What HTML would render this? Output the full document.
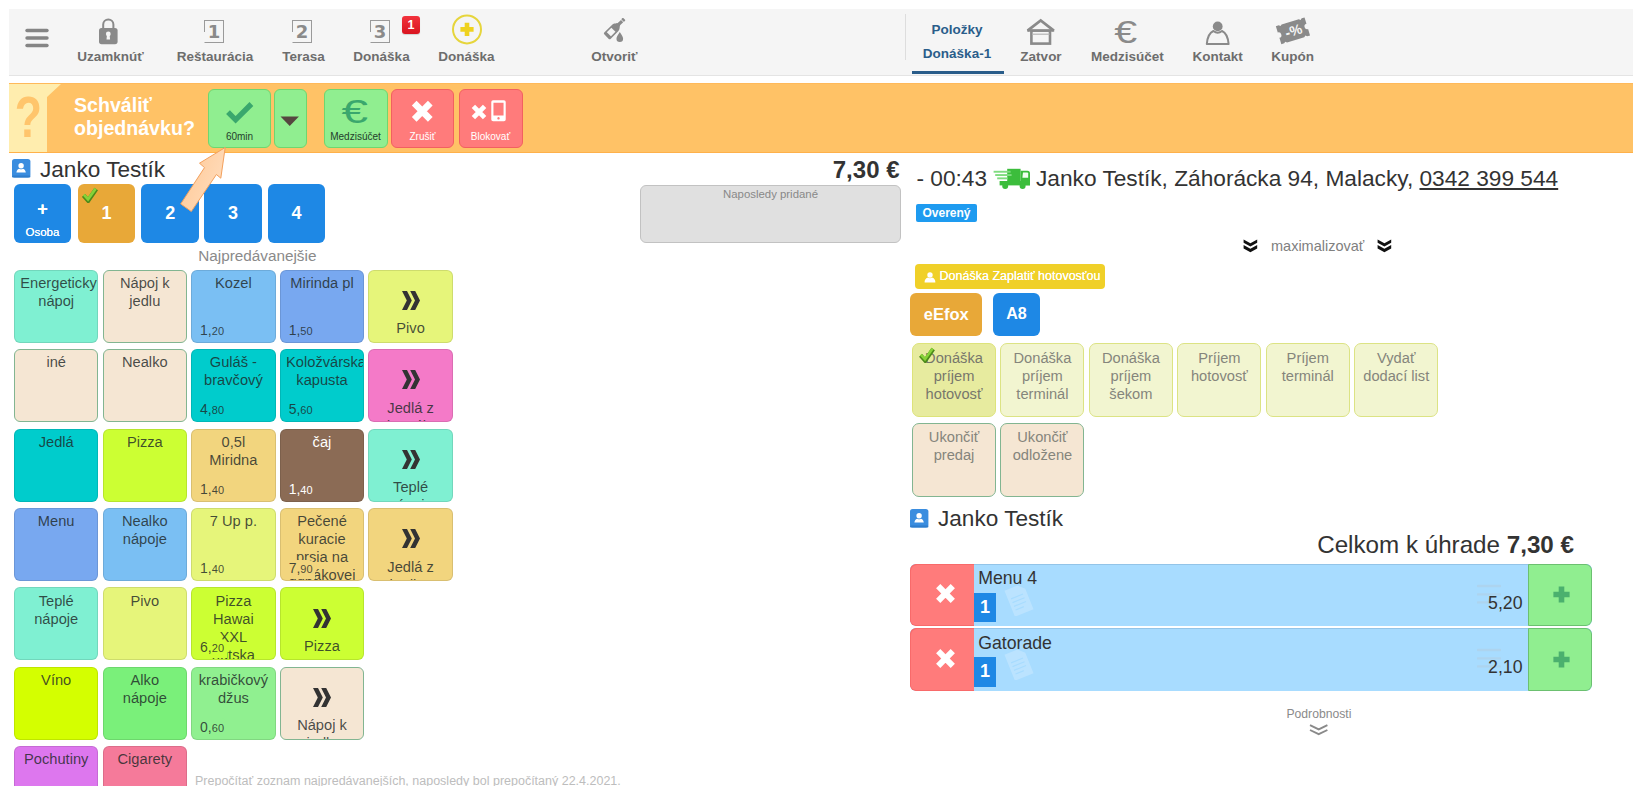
<!DOCTYPE html><html lang="sk"><head><meta charset="utf-8"><title>POS</title><style>
*{box-sizing:border-box;margin:0;padding:0}
html,body{width:1640px;height:798px;overflow:hidden;background:#fff}
body{font-family:"Liberation Sans",Arial,sans-serif;color:#333;position:relative}
#frame{position:absolute;left:9px;top:9px;width:1624px;height:777px;overflow:hidden;background:#fff}
.abs{position:absolute}
#nav{position:absolute;left:0;top:0;width:1624px;height:67px;background:#f5f5f5;border-bottom:1px solid #e4e4e4;box-sizing:border-box}
.nl{position:absolute;top:40px;font-size:13.5px;font-weight:bold;color:#6d6d6d;white-space:nowrap;transform:translateX(-50%);line-height:16px}
.nl.act{color:#2a5d8a}
#obar{position:absolute;left:0;top:74px;width:1624px;height:70px;background:#ffc266;border-top:1px solid #ffb95a;border-bottom:1.5px solid #ffb14a}
.ob{position:absolute;top:5px;height:59px;border-radius:6px;border:1px solid;text-align:center}
.ob.g{background:#90ee90;border-color:#6fd66f}
.ob.r{background:#ff7b7b;border-color:#f26060}
.ob span{position:absolute;left:0;right:0;bottom:5px;font-size:10px;line-height:11px;color:#24402c;white-space:nowrap}
.ob.r span{color:#fff}
.pb{position:absolute;top:175.2px;width:57.6px;height:58.4px;border-radius:6px;background:#1e88e5;color:#fff;font-weight:bold;font-size:18px;text-align:center;line-height:58.4px}
.t{position:absolute;width:84.6px;height:73.4px;border-radius:6px;border:1px solid rgba(0,0,0,.10);overflow:hidden;text-align:center;font-size:14.67px;line-height:18px;padding:3.5px 5.4px 0 5.4px;color:rgba(30,40,40,.82)}
.t .p{position:absolute;left:4.6px;bottom:1.6px;font-size:11px;line-height:13px;text-align:left;padding:2.3px 2.8px 2.6px 3.4px;border-radius:0 6px 0 0}
.t .p b{font-weight:normal;font-size:14px}
.t .ch{display:block;width:18px;height:19px;margin:17px auto 9.2px auto}
.pt{position:absolute;width:84px;height:74.3px;border-radius:7px;border:1px solid #dce384;background:#f2f5d0;overflow:hidden;text-align:center;font-size:14.67px;line-height:18px;padding:4.6px 4px 0 4px;color:#85857c}
</style></head><body><div id="frame">
<div id="nav">
<svg class="abs" style="left:16px;top:19px" width="24" height="20" viewBox="0 0 24 20"><g stroke="#858585" stroke-width="3.4" stroke-linecap="round"><line x1="2" y1="2.5" x2="22" y2="2.5"/><line x1="2" y1="10" x2="22" y2="10"/><line x1="2" y1="17.5" x2="22" y2="17.5"/></g></svg>
<svg class="abs" style="left:88px;top:8px" width="24" height="30" viewBox="0 0 24 30"><path d="M6.2 12 V7.5 a5.1 5.1 0 0 1 10.2 0 V12" fill="none" stroke="#8a8a8a" stroke-width="2"/><rect x="2" y="11" width="18.6" height="16.2" rx="2.6" fill="#8a8a8a"/><circle cx="11.3" cy="17" r="2.4" fill="#f5f5f5"/><path d="M10.1 17 h2.4 l0.6 5.4 h-3.6z" fill="#f5f5f5"/></svg>
<div class="abs" style="left:195px;top:11px;width:20px;height:22.5px;border:1.3px solid #9a9a9a;border-left-color:transparent;"></div>
<div class="abs" style="left:195px;top:11px;width:1.3px;height:12px;background:#9a9a9a"></div>
<div class="abs" style="left:195px;top:11px;width:20px;height:22.5px;text-align:center;font-family:'DejaVu Sans',sans-serif;font-weight:bold;font-size:18px;line-height:24px;color:#8a8a8a">1</div>
<div class="abs" style="left:283px;top:11px;width:20px;height:22.5px;border:1.3px solid #9a9a9a;border-left-color:transparent;"></div>
<div class="abs" style="left:283px;top:11px;width:1.3px;height:12px;background:#9a9a9a"></div>
<div class="abs" style="left:283px;top:11px;width:20px;height:22.5px;text-align:center;font-family:'DejaVu Sans',sans-serif;font-weight:bold;font-size:18px;line-height:24px;color:#8a8a8a">2</div>
<div class="abs" style="left:361px;top:11px;width:20px;height:22.5px;border:1.3px solid #9a9a9a;border-left-color:transparent;"></div>
<div class="abs" style="left:361px;top:11px;width:1.3px;height:12px;background:#9a9a9a"></div>
<div class="abs" style="left:361px;top:11px;width:20px;height:22.5px;text-align:center;font-family:'DejaVu Sans',sans-serif;font-weight:bold;font-size:18px;line-height:24px;color:#8a8a8a">3</div>
<div class="abs" style="left:393px;top:6.5px;width:18px;height:18.5px;border-radius:3px;background:linear-gradient(#f2323c,#d9141f);color:#fff;font-weight:bold;font-size:12.5px;line-height:18px;text-align:center;box-shadow:0 1px 1px rgba(0,0,0,.15)">1</div>
<svg class="abs" style="left:442px;top:4px" width="32" height="32" viewBox="0 0 32 32"><circle cx="16" cy="16.4" r="14" fill="none" stroke="#e6d53c" stroke-width="2"/><path d="M13.7 9.8h4.6v4.3h4.3v4.6h-4.3v4.3h-4.6v-4.3h-4.3v-4.6h4.3z" fill="#efd21f"/></svg>
<svg class="abs" style="left:588px;top:8px" width="29" height="29" viewBox="0 0 28 28"><g transform="rotate(45 14 14)" fill="#8a8a8a"><rect x="12.3" y="-3.2" width="3.6" height="2.2" rx="0.6"/><rect x="12.6" y="-0.4" width="3" height="4"/><path d="M12.6 3.2 h3 c0 2 2.8 3 2.8 6 v10.5 a1.2 1.2 0 0 1 -1.2 1.2 h-6.2 a1.2 1.2 0 0 1 -1.2 -1.2 V9.2 c0 -3 2.8 -4 2.8 -6z"/></g><rect x="0" y="0" width="0" height="0"/><path d="M22 14.6 c1.8 3 3.2 4.6 3.2 6.4 a3.2 3.2 0 0 1 -6.4 0 c0 -1.8 1.4 -3.4 3.2 -6.4z" fill="#8a8a8a"/><g transform="rotate(45 14 14)"><rect x="11.3" y="11.5" width="5.6" height="6.2" fill="#f5f5f5"/></g></svg>
<div class="nl" style="left:101.5px">Uzamknúť</div>
<div class="nl" style="left:206px">Reštaurácia</div>
<div class="nl" style="left:294.6px">Terasa</div>
<div class="nl" style="left:372.5px">Donáška</div>
<div class="nl" style="left:457.4px">Donáška</div>
<div class="nl" style="left:605.3px">Otvoriť</div>
<div class="nl act" style="left:948px;top:13px">Položky</div><div class="nl act" style="left:948px;top:37px">Donáška-1</div>
<div class="abs" style="left:902.5px;top:62px;width:92px;height:3px;background:#2a5d8a"></div>
<div class="abs" style="left:896px;top:5px;width:1px;height:46px;background:#ddd"></div>
<div class="nl" style="left:1032px">Zatvor</div>
<div class="nl" style="left:1118.4px">Medzisúčet</div>
<div class="nl" style="left:1208.6px">Kontakt</div>
<div class="nl" style="left:1283.7px">Kupón</div>
<svg class="abs" style="left:1016px;top:7.6px" width="32" height="30" viewBox="0 0 32 30"><path d="M2.6 13.6 L15.7 3.4 L28.8 13.6" fill="none" stroke="#8a8a8a" stroke-width="2.8" stroke-linejoin="miter"/><rect x="6.4" y="13.6" width="18.6" height="13" fill="none" stroke="#8a8a8a" stroke-width="2.6"/><line x1="2.2" y1="13.6" x2="29.2" y2="13.6" stroke="#8a8a8a" stroke-width="2.2"/><line x1="7" y1="17.2" x2="24.6" y2="17.2" stroke="#b5b5b5" stroke-width="1.2"/></svg>
<div class="abs" style="left:1107.5px;top:6.8px;font-size:31px;line-height:34px;color:#8a8a8a;transform:scaleX(1.33);transform-origin:50% 50%">€</div>
<svg class="abs" style="left:1194px;top:10px" width="30" height="28" viewBox="0 0 30 28"><path d="M3.8 25 c0.6 -7 3 -11.4 6.6 -13 c2.6 2 6 2 8.6 0 c3.6 1.6 6 6 6.6 13z" fill="#f5f5f5" stroke="#8a8a8a" stroke-width="2" stroke-linejoin="round"/><circle cx="14.7" cy="7.4" r="4.9" fill="#8a8a8a"/></svg>
<svg class="abs" style="left:1266px;top:5.5px" width="36" height="32" viewBox="0 0 36 32"><g transform="rotate(-17 18 16)"><path d="M3 6.4 h3 l1.5 1.2 l1.5 -1.2 h18 l1.5 1.2 l1.5 -1.2 h3 v6.6 a2.8 2.8 0 0 0 0 5.6 v6.6 h-3 l-1.5 -1.2 l-1.5 1.2 h-18 l-1.5 -1.2 l-1.5 1.2 h-3 v-6.6 a2.8 2.8 0 0 0 0 -5.6z" fill="#8a8a8a"/><text x="18.5" y="20.8" text-anchor="middle" font-family="Liberation Sans,sans-serif" font-size="14" font-weight="bold" fill="#f5f5f5">-%</text></g></svg>
</div>
<div id="obar">
<div class="abs" style="left:0;top:0;width:52px;height:68px;background:#ffedae;clip-path:polygon(0 0,52px 0,38px 13px,38px 68px,0 68px)"></div>
<div class="abs" style="left:2.4px;top:4.5px;width:34px;text-align:center;font-size:57px;line-height:57px;font-weight:bold;color:#ffc56c;transform:scaleX(.78)">?</div>
<div class="abs" style="left:65px;top:10px;font-size:19.6px;line-height:23.3px;font-weight:bold;color:#fff">Schváliť<br>objednávku?</div>
<div class="ob g" style="left:199px;width:63px"><svg class="abs" style="left:16.4px;top:9.5px" width="30" height="24" viewBox="0 0 30 24"><path d="M3 12.2 L10.6 19.8 L26.4 4" fill="none" stroke="#3aa76d" stroke-width="5.4" stroke-linecap="butt" stroke-linejoin="miter"/></svg><span>60min</span></div>
<div class="ob g" style="left:265px;width:32.5px"><svg class="abs" style="left:4.6px;top:26.2px" width="20" height="11" viewBox="0 0 20 11"><path d="M0.5 0.5h18.4l-9.2 9.6z" fill="#564640"/></svg></div>
<div class="ob g" style="left:314.5px;width:64px"><div class="abs" style="left:0;right:0;top:3.2px;text-align:center;font-size:34px;line-height:37px;color:#3aa76d;transform:translateX(-1.2px) scaleX(1.4)">€</div><span>Medzisúčet</span></div>
<div class="ob r" style="left:382px;width:63px"><svg class="abs" style="left:19.2px;top:9.6px" width="22.5" height="22.5" viewBox="0 0 21 21"><path d="M3 3 L18 18 M18 3 L3 18" stroke="#fff" stroke-width="6.2" stroke-linecap="butt"/></svg><span>Zrušiť</span></div>
<div class="ob r" style="left:449.5px;width:64px"><svg class="abs" style="left:11.6px;top:14px" width="16" height="16" viewBox="0 0 16 16"><path d="M2.4 2.4 L13.6 13.6 M13.6 2.4 L2.4 13.6" stroke="#fff" stroke-width="4.8"/></svg><svg class="abs" style="left:31.4px;top:10.4px" width="15" height="21.6" viewBox="0 0 16 23"><path d="M2.2 0.3h11.6a1.9 1.9 0 0 1 1.9 1.9v18.6a1.9 1.9 0 0 1 -1.9 1.9h-11.6a1.9 1.9 0 0 1 -1.9 -1.9v-18.6a1.9 1.9 0 0 1 1.9 -1.9z M2.6 2.8v13.6h10.8v-13.6z M8 18.2a1.3 1.3 0 1 0 0.01 0z" fill="#fff" fill-rule="evenodd"/></svg><span>Blokovať</span></div>
</div>
<div class="abs" style="left:31px;top:148px;font-size:22.6px;line-height:26px;color:#333">Janko Testík</div>
<svg class="abs" style="left:3px;top:150.3px" width="19" height="19" viewBox="0 0 19 19"><rect x="0" y="0" width="18.4" height="18.4" rx="2.6" fill="#3a8ddf"/><rect x="0" y="16.6" width="18.4" height="1.8" rx="0.9" fill="#2f7dcc"/><circle cx="9.1" cy="6.8" r="2.7" fill="#fff"/><path d="M4.4 13.6c0.2-2.6 1.8-3.6 3-3.9c1 .8 2.4 .8 3.4 0c1.2 .3 2.8 1.3 3 3.9z" fill="#fff"/></svg>
<div class="pb" style="left:4.65px;line-height:20px;padding-top:14.4px;font-size:18px;text-shadow:0 0 .5px #fff">+<div style="font-size:11.5px;font-weight:normal;line-height:16px;margin-top:5.2px;text-shadow:0 0 .4px #fff">Osoba</div></div>
<div class="pb" style="left:68.8px;background:#e8a838">1<svg class="abs" style="left:4px;top:2.5px" width="16" height="16" viewBox="0 0 16 16"><path d="M1.6 8.4 L6.2 13.6 L14.2 2" fill="none" stroke="#4c8a1a" stroke-width="4.4"/><path d="M1.8 7.6 L6 12.2 L13.6 1.6" fill="none" stroke="#86d238" stroke-width="2.8"/></svg></div>
<div class="pb" style="left:132.4px">2</div>
<div class="pb" style="left:195.2px">3</div>
<div class="pb" style="left:258.6px">4</div>
<div class="abs" style="left:189.2px;top:239.4px;font-size:15.3px;line-height:16px;color:#8a8a8a">Najpredávanejšie</div>
<div class="abs" style="left:802px;top:147.5px;width:88.5px;text-align:right;font-size:24px;line-height:26px;font-weight:bold;color:#333;white-space:nowrap">7,30 €</div>
<div class="abs" style="left:631px;top:175.6px;width:261px;height:58.4px;background:#e0e0e0;border:1px solid #c2c2c2;border-radius:6px;text-align:center;font-size:11.4px;line-height:14px;color:#888;padding-top:1.2px">Naposledy pridané</div>
<div class="t" style="left:4.9px;top:260.8px;background:#7ff0d2">Energeticky nápoj</div>
<div class="t" style="left:93.5px;top:260.8px;background:#f5e6d3;border-color:#82b591">Nápoj k jedlu</div>
<div class="t" style="left:182.1px;top:260.8px;background:#7abff3">Kozel<span class="p" style="background:#7abff3"><b>1,</b>20</span></div>
<div class="t" style="left:270.69999999999993px;top:260.8px;background:#78a8f0">Mirinda pl<span class="p" style="background:#78a8f0"><b>1,</b>50</span></div>
<div class="t" style="left:359.29999999999995px;top:260.8px;background:#e6f57a"><svg class="ch" viewBox="0 0 18 19"><path d="M0 0h5l4.8 9.5l-4.8 9.5h-5l4.8-9.5z M8.2 0h5l4.8 9.5l-4.8 9.5h-5l4.8-9.5z" fill="#333"/></svg>Pivo</div>
<div class="t" style="left:4.9px;top:339.9px;background:#f5e6d3;border-color:#82b591">iné</div>
<div class="t" style="left:93.5px;top:339.9px;background:#f5e6d3;border-color:#82b591">Nealko</div>
<div class="t" style="left:182.1px;top:339.9px;background:#00cccc">Guláš - bravčový<span class="p" style="background:#00cccc"><b>4,</b>80</span></div>
<div class="t" style="left:270.69999999999993px;top:339.9px;background:#00cccc">Koložvárska kapusta<span class="p" style="background:#00cccc"><b>5,</b>60</span></div>
<div class="t" style="left:359.29999999999995px;top:339.9px;background:#f47ac8"><svg class="ch" viewBox="0 0 18 19"><path d="M0 0h5l4.8 9.5l-4.8 9.5h-5l4.8-9.5z M8.2 0h5l4.8 9.5l-4.8 9.5h-5l4.8-9.5z" fill="#333"/></svg>Jedlá z denného</div>
<div class="t" style="left:4.9px;top:419.6px;background:#00cccc">Jedlá</div>
<div class="t" style="left:93.5px;top:419.6px;background:#ccff33">Pizza</div>
<div class="t" style="left:182.1px;top:419.6px;background:#f2d57e">0,5l Miridna<span class="p" style="background:#f2d57e"><b>1,</b>40</span></div>
<div class="t" style="left:270.69999999999993px;top:419.6px;background:#8b6b55;color:#fff">čaj<span class="p" style="background:#8b6b55"><b>1,</b>40</span></div>
<div class="t" style="left:359.29999999999995px;top:419.6px;background:#7ff0d2"><svg class="ch" viewBox="0 0 18 19"><path d="M0 0h5l4.8 9.5l-4.8 9.5h-5l4.8-9.5z M8.2 0h5l4.8 9.5l-4.8 9.5h-5l4.8-9.5z" fill="#333"/></svg>Teplé nápoje</div>
<div class="t" style="left:4.9px;top:498.9px;background:#78a8f0">Menu</div>
<div class="t" style="left:93.5px;top:498.9px;background:#7abff3">Nealko nápoje</div>
<div class="t" style="left:182.1px;top:498.9px;background:#e6f57a">7 Up p.<span class="p" style="background:#e6f57a"><b>1,</b>40</span></div>
<div class="t" style="left:270.69999999999993px;top:498.9px;background:#f2d57e">Pečené kuracie prsia na dubákovej<span class="p" style="background:#f2d57e"><b>7,</b>90</span></div>
<div class="t" style="left:359.29999999999995px;top:498.9px;background:#f2d57e"><svg class="ch" viewBox="0 0 18 19"><path d="M0 0h5l4.8 9.5l-4.8 9.5h-5l4.8-9.5z M8.2 0h5l4.8 9.5l-4.8 9.5h-5l4.8-9.5z" fill="#333"/></svg>Jedlá z hydiny</div>
<div class="t" style="left:4.9px;top:578.1px;background:#7ff0d2">Teplé nápoje</div>
<div class="t" style="left:93.5px;top:578.1px;background:#e6f57a">Pivo</div>
<div class="t" style="left:182.1px;top:578.1px;background:#ccff33">Pizza Hawai XXL hutska<span class="p" style="background:#ccff33"><b>6,</b>20</span></div>
<div class="t" style="left:270.69999999999993px;top:578.1px;background:#ccff33"><svg class="ch" viewBox="0 0 18 19"><path d="M0 0h5l4.8 9.5l-4.8 9.5h-5l4.8-9.5z M8.2 0h5l4.8 9.5l-4.8 9.5h-5l4.8-9.5z" fill="#333"/></svg>Pizza</div>
<div class="t" style="left:4.9px;top:657.5px;background:#d4ff00">Víno</div>
<div class="t" style="left:93.5px;top:657.5px;background:#7af07a">Alko nápoje</div>
<div class="t" style="left:182.1px;top:657.5px;background:#90f090">krabičkový džus<span class="p" style="background:#90f090"><b>0,</b>60</span></div>
<div class="t" style="left:270.69999999999993px;top:657.5px;background:#f5e6d3;border-color:#82b591"><svg class="ch" viewBox="0 0 18 19"><path d="M0 0h5l4.8 9.5l-4.8 9.5h-5l4.8-9.5z M8.2 0h5l4.8 9.5l-4.8 9.5h-5l4.8-9.5z" fill="#333"/></svg>Nápoj k jedlu</div>
<div class="t" style="left:4.9px;top:736.7px;background:#dd77ee">Pochutiny</div>
<div class="t" style="left:93.5px;top:736.7px;background:#f57a9a">Cigarety</div>
<div class="abs" style="left:186px;top:765px;font-size:12.5px;line-height:14px;color:#bdbdbd;white-space:nowrap">Prepočítať zoznam najpredávanejších, naposledy bol prepočítaný 22.4.2021.</div>
<svg class="abs" style="left:165px;top:133px;pointer-events:none" width="70" height="80" viewBox="165 133 70 80"><defs><linearGradient id="ag" x1="0" y1="0" x2="1" y2="0.6"><stop offset="0" stop-color="#ffc792"/><stop offset="1" stop-color="#ffdcbc"/></linearGradient></defs><polygon points="216.2,138.5 190.5,154.2 195.5,158.6 171.7,194.9 182.3,202.5 207.4,165.5 211.8,169.2" fill="url(#ag)" stroke="#f3a05c" stroke-width="1" stroke-linejoin="round"/></svg>
<div class="abs" style="left:907.5px;top:155.2px;font-size:22.68px;line-height:28px;color:#333;white-space:nowrap">- 00:43 <svg style="display:inline-block;vertical-align:-3.9px;margin:0 -0.8px 0 -0.9px" width="38" height="22" viewBox="0 0 38 22"><rect x="14.2" y="0.8" width="13.4" height="12.6" fill="#3cbd3c"/><path d="M27.6 2.8h6.8a2.6 2.6 0 0 1 2.6 2.6v11.8h-9.4z" fill="#3cbd3c"/><rect x="6.6" y="13" width="30.4" height="4.4" fill="#3cbd3c"/><path d="M30 4.6h4.2a1 1 0 0 1 1 1v4.2h-5.8z" fill="#f0fff0"/><rect x="0.6" y="2.8" width="17" height="1.9" fill="#7fdc7f"/><rect x="2.2" y="6.1" width="16.4" height="1.9" fill="#7fdc7f"/><rect x="4.2" y="9.4" width="10.4" height="1.9" fill="#7fdc7f"/><circle cx="12.2" cy="18" r="3" fill="#3cbd3c"/><circle cx="29.6" cy="18" r="3" fill="#3cbd3c"/></svg> Janko Testík, Záhorácka 94, Malacky, <u>0342 399 544</u></div>
<div class="abs" style="left:907px;top:195px;width:61px;height:18px;background:#1e9bf0;border-radius:2px;color:#fff;font-size:12px;font-weight:bold;line-height:18px;text-align:center">Overený</div>
<div class="abs" style="left:1262px;top:228.5px;font-size:14.5px;line-height:16px;color:#808080">maximalizovať</div>
<div class="abs" style="left:906.2px;top:255px;width:189.8px;height:24.7px;background:#f0d028;border-radius:4px;color:#fff;font-size:12.5px;line-height:24.7px;padding-left:24.4px;white-space:nowrap;text-shadow:0 0 .6px #fff"><svg class="abs" style="left:8.6px;top:7.6px" width="12" height="11" viewBox="0 0 12 11"><circle cx="6" cy="3" r="2.7" fill="#fff"/><path d="M0.6 10.4c0-3.4 2-4.6 3.4-5c1.2 1 2.8 1 4 0c1.4 .4 3.4 1.6 3.4 5z" fill="#fff"/></svg>Donáška Zaplatiť hotovosťou</div>
<div class="abs" style="left:901.1px;top:284.2px;width:72.4px;height:42.8px;background:#e8a838;border-radius:6px;color:#fff;font-size:16.5px;font-weight:bold;line-height:42.3px;text-align:center">eEfox</div>
<div class="abs" style="left:983.5px;top:284.2px;width:47.8px;height:42.8px;background:#1e88e5;border-radius:6px;color:#fff;font-size:16px;font-weight:bold;line-height:42.3px;text-align:center">A8</div>
<div class="pt" style="left:903.0px;top:334.2px;background:#e7eb9f;border-color:#dde37a;color:#77776c"><svg class="abs" style="left:5.6px;top:2.6px" width="16" height="16" viewBox="0 0 16 16"><path d="M1.6 8.4 L6.2 13.6 L14.2 2" fill="none" stroke="#4c8a1a" stroke-width="4.2"/><path d="M1.8 7.6 L6 12.2 L13.6 1.6" fill="none" stroke="#86d238" stroke-width="2.6"/></svg>Donáška príjem hotovosť</div>
<div class="pt" style="left:991.45px;top:334.2px">Donáška príjem terminál</div>
<div class="pt" style="left:1079.9px;top:334.2px">Donáška príjem šekom</div>
<div class="pt" style="left:1168.35px;top:334.2px">Príjem hotovosť</div>
<div class="pt" style="left:1256.8px;top:334.2px">Príjem terminál</div>
<div class="pt" style="left:1345.25px;top:334.2px">Vydať dodací list</div>
<div class="pt" style="left:903.0px;top:413.7px;padding-top:4.2px;background:#f5e6d3;border-color:#82b591">Ukončiť predaj</div>
<div class="pt" style="left:991.45px;top:413.7px;padding-top:4.2px;background:#f5e6d3;border-color:#82b591">Ukončiť odložene</div>
<svg class="abs" style="left:901px;top:500px" width="19" height="19" viewBox="0 0 19 19"><rect x="0" y="0" width="18.4" height="18.4" rx="2.6" fill="#3a8ddf"/><rect x="0" y="16.6" width="18.4" height="1.8" rx="0.9" fill="#2f7dcc"/><circle cx="9.1" cy="6.8" r="2.7" fill="#fff"/><path d="M4.4 13.6c0.2-2.6 1.8-3.6 3-3.9c1 .8 2.4 .8 3.4 0c1.2 .3 2.8 1.3 3 3.9z" fill="#fff"/></svg>
<div class="abs" style="left:929px;top:497px;font-size:22.6px;line-height:26px;color:#333">Janko Testík</div>
<div class="abs" style="left:1100px;top:522px;width:465px;font-size:24.2px;line-height:28px;color:#333;white-space:nowrap;text-align:right">Celkom k úhrade <b>7,30 €</b></div>
<div class="abs" style="left:901px;top:554.5px;width:682px;height:62.2px;border-radius:6px;background:#a8dcff;overflow:hidden;box-shadow:inset 0 1px 0 #93c4e8"><div class="abs" style="left:0;top:0;width:64.3px;height:100%;background:#ff7b7b;border-radius:6px 0 0 6px;box-shadow:inset 1px 1px 0 #f86a6a,inset 0 -1px 0 #f86a6a"><svg class="abs" style="left:24.6px;top:19.5px" width="21" height="21" viewBox="0 0 21 21"><path d="M3.2 3.2 L17.8 17.8 M17.8 3.2 L3.2 17.8" stroke="#fff" stroke-width="6"/></svg></div><div class="abs" style="right:0;top:0;width:64px;height:100%;background:#90ee90;border:1px solid #6cc070;border-radius:0 6px 6px 0"><svg class="abs" style="left:23.6px;top:21.8px" width="17" height="17" viewBox="0 0 17 17"><path d="M5.7 0.4h5.6v5.3h5.3v5.6h-5.3v5.3h-5.6v-5.3h-5.3v-5.6h5.3z" fill="#4bb06e"/></svg></div><svg class="abs" style="left:92px;top:20px;opacity:.22" width="34" height="32" viewBox="0 0 34 32"><g transform="rotate(-22 17 16)"><path d="M7 2h14l6 6v22h-20z" fill="#fff"/><path d="M10 12h13M10 16h13M10 20h13M10 24h9" stroke="#a8dcff" stroke-width="1.2"/></g></svg><svg class="abs" style="left:567px;top:20px;opacity:.35" width="24" height="20" viewBox="0 0 24 20"><path d="M1 2h22M1 10.4h22M1 18.4h22" stroke="#b9c7d2" stroke-width="2.4" stroke-linecap="round"/></svg><div class="abs" style="left:68.2px;top:4.5px;font-size:17.7px;line-height:20px;color:#333">Menu 4</div><div class="abs" style="left:64.3px;top:29.3px;width:21.6px;height:29.2px;background:#1e88e5;color:#fff;font-weight:bold;font-size:18px;line-height:29.6px;text-align:center">1</div><div class="abs" style="right:69.5px;top:29.2px;font-size:17.7px;line-height:20px;color:#333">5,20</div></div>
<div class="abs" style="left:901px;top:619.2px;width:682px;height:62.6px;border-radius:6px;background:#a8dcff;overflow:hidden;box-shadow:inset 0 1px 0 #93c4e8"><div class="abs" style="left:0;top:0;width:64.3px;height:100%;background:#ff7b7b;border-radius:6px 0 0 6px;box-shadow:inset 1px 1px 0 #f86a6a,inset 0 -1px 0 #f86a6a"><svg class="abs" style="left:24.6px;top:20px" width="21" height="21" viewBox="0 0 21 21"><path d="M3.2 3.2 L17.8 17.8 M17.8 3.2 L3.2 17.8" stroke="#fff" stroke-width="6"/></svg></div><div class="abs" style="right:0;top:0;width:64px;height:100%;background:#90ee90;border:1px solid #6cc070;border-radius:0 6px 6px 0"><svg class="abs" style="left:23.6px;top:22.2px" width="17" height="17" viewBox="0 0 17 17"><path d="M5.7 0.4h5.6v5.3h5.3v5.6h-5.3v5.3h-5.6v-5.3h-5.3v-5.6h5.3z" fill="#4bb06e"/></svg></div><svg class="abs" style="left:92px;top:20px;opacity:.22" width="34" height="32" viewBox="0 0 34 32"><g transform="rotate(-22 17 16)"><path d="M7 2h14l6 6v22h-20z" fill="#fff"/><path d="M10 12h13M10 16h13M10 20h13M10 24h9" stroke="#a8dcff" stroke-width="1.2"/></g></svg><svg class="abs" style="left:567px;top:20px;opacity:.35" width="24" height="20" viewBox="0 0 24 20"><path d="M1 2h22M1 10.4h22M1 18.4h22" stroke="#b9c7d2" stroke-width="2.4" stroke-linecap="round"/></svg><div class="abs" style="left:68.2px;top:4.5px;font-size:17.7px;line-height:20px;color:#333">Gatorade</div><div class="abs" style="left:64.3px;top:29.3px;width:21.6px;height:29.2px;background:#1e88e5;color:#fff;font-weight:bold;font-size:18px;line-height:29.6px;text-align:center">1</div><div class="abs" style="right:69.5px;top:29.2px;font-size:17.7px;line-height:20px;color:#333">2,10</div></div>
<div class="abs" style="left:1277.4px;top:698.5px;font-size:12.2px;line-height:13px;color:#8a8a8a">Podrobnosti</div>
<svg class="abs" style="left:1300px;top:715px" width="20" height="12" viewBox="0 0 20 12"><path d="M1 1.2 L9.7 5.4 L18.4 1.2 M1 6 L9.7 10.2 L18.4 6" fill="none" stroke="#8a8a8a" stroke-width="1.9" stroke-linejoin="miter"/></svg>
<svg class="abs" style="left:1234.4px;top:230px" width="15" height="14" viewBox="0 0 15 14"><path d="M0.6 0.4 L7.4 4.2 L14.2 0.4 V3.8 L7.4 7.6 L0.6 3.8z M0.6 6 L7.4 9.8 L14.2 6 V9.4 L7.4 13.2 L0.6 9.4z" fill="#111"/></svg>
<svg class="abs" style="left:1367.8px;top:230px" width="15" height="14" viewBox="0 0 15 14"><path d="M0.6 0.4 L7.4 4.2 L14.2 0.4 V3.8 L7.4 7.6 L0.6 3.8z M0.6 6 L7.4 9.8 L14.2 6 V9.4 L7.4 13.2 L0.6 9.4z" fill="#111"/></svg>
</div></body></html>
